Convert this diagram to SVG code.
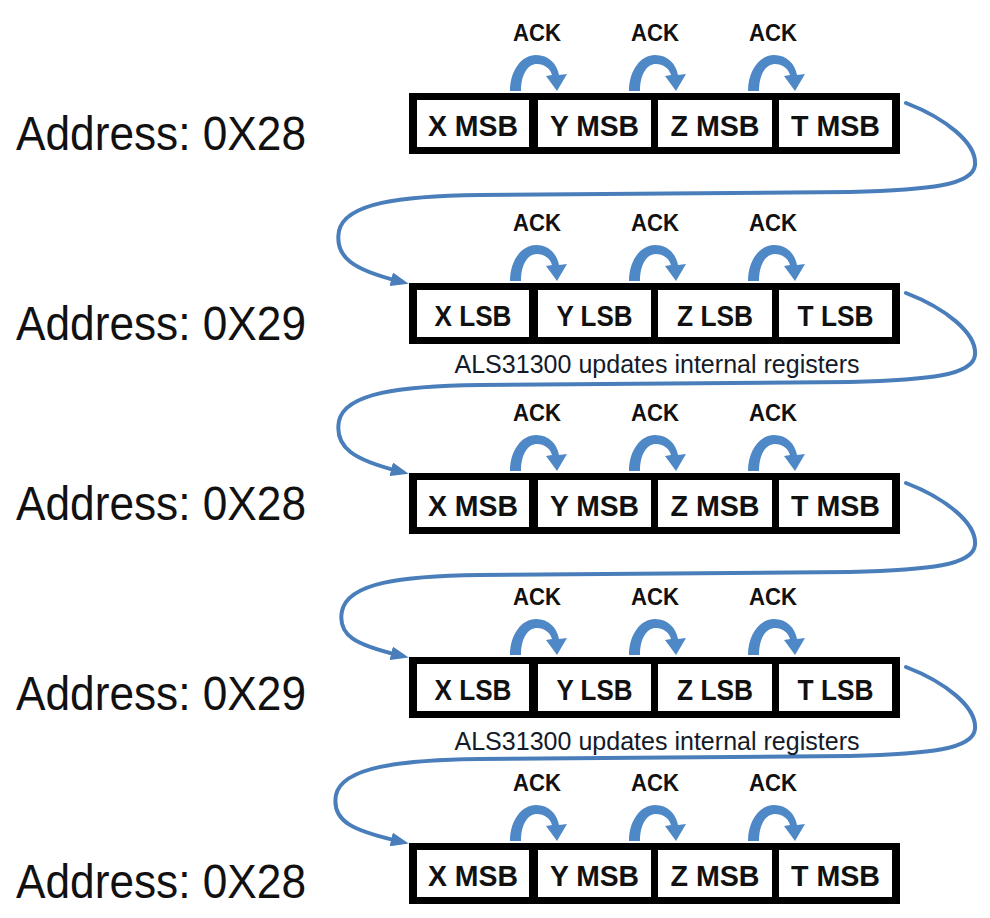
<svg xmlns="http://www.w3.org/2000/svg" xmlns:xlink="http://www.w3.org/1999/xlink" width="990" height="918" viewBox="0 0 990 918">
<style>
.addr{font-family:"Liberation Sans",Arial,sans-serif;font-size:48px;fill:#111}
.cell{font-family:"Liberation Sans",Arial,sans-serif;font-size:30px;font-weight:bold;fill:#111;text-anchor:middle}
.ack{font-family:"Liberation Sans",Arial,sans-serif;font-size:23px;font-weight:bold;fill:#111;text-anchor:middle}
.note{font-family:"Liberation Sans",Arial,sans-serif;font-size:25px;fill:#141a28;text-anchor:middle}
.frame{fill:#000}
.box{fill:#fff}
.conn{fill:none;stroke:#4A7EBB;stroke-width:4;stroke-linecap:round}
.ackarrow{fill:#4F88C6}
</style>
<defs>
<marker id="ah" markerUnits="userSpaceOnUse" viewBox="0 0 18 14" markerWidth="18" markerHeight="14" refX="7" refY="7" orient="auto">
<path d="M0,0 L18,7 L0,14 z" fill="#4A7EBB"/>
</marker>
<path id="curl" d="M0 0 C0 -21 12 -36 26 -36 C39 -36 47 -27 49 -16 L57 -17 L47 0 L36 -15 L42 -16 C40 -23 34 -27 27 -27 C18 -27 11 -17 11 0 Z"/>
<g id="curls">
<use xlink:href="#curl" class="ackarrow" x="510" y="-2"/>
<use xlink:href="#curl" class="ackarrow" x="629" y="-2"/>
<use xlink:href="#curl" class="ackarrow" x="748" y="-2"/>
</g>
<g id="frame">
<rect class="frame" x="409" y="0" width="491" height="61"/>
<rect class="box" x="417" y="7" width="112" height="47"/>
<rect class="box" x="538" y="7" width="113" height="47"/>
<rect class="box" x="658" y="7" width="114" height="47"/>
<rect class="box" x="779" y="7" width="113" height="47"/>
</g>
</defs>

<g id="connectors">
<path class="conn" marker-end="url(#ah)" d="M906 103 C945 118 977 143 975 165 C973 185 930 190 850 192 C700 194 560 194 480 195 C400 196 345 203 339 231 C334 258 355 270 398 281"/>
<path class="conn" marker-end="url(#ah)" d="M906 293 C945 308 977 333 975 355 C973 375 930 380 850 382 C700 384 560 384 480 385 C400 386 345 393 339 421 C334 448 355 460 398 471"/>
<path class="conn" marker-end="url(#ah)" d="M906 483 C945 498 977 523 975 545 C973 565 930 570 850 572 C700 574 560 574 480 575 C400 576 348 583 342 611 C337 636 357 645 398 655"/>
<path class="conn" marker-end="url(#ah)" d="M906 667 C945 682 977 707 975 729 C973 749 930 754 850 756 C700 758 560 758 480 759 C400 760 342 767 336 795 C331 822 355 831 398 841"/>
</g>

<g id="row1" transform="translate(0,93)">
<text class="addr" x="16" y="57" textLength="290" lengthAdjust="spacingAndGlyphs">Address: 0X28</text>
<text class="ack" x="537" y="-52" textLength="48" lengthAdjust="spacingAndGlyphs">ACK</text>
<text class="ack" x="655" y="-52" textLength="48" lengthAdjust="spacingAndGlyphs">ACK</text>
<text class="ack" x="773" y="-52" textLength="48" lengthAdjust="spacingAndGlyphs">ACK</text>
<use xlink:href="#curls"/>
<use xlink:href="#frame"/>
<text class="cell" x="473" y="43" textLength="90" lengthAdjust="spacingAndGlyphs">X MSB</text>
<text class="cell" x="594.5" y="43" textLength="89" lengthAdjust="spacingAndGlyphs">Y MSB</text>
<text class="cell" x="715" y="43" textLength="89" lengthAdjust="spacingAndGlyphs">Z MSB</text>
<text class="cell" x="835.5" y="43" textLength="89" lengthAdjust="spacingAndGlyphs">T MSB</text>
</g>

<g id="row2" transform="translate(0,283)">
<text class="addr" x="16" y="57" textLength="290" lengthAdjust="spacingAndGlyphs">Address: 0X29</text>
<text class="ack" x="537" y="-52" textLength="48" lengthAdjust="spacingAndGlyphs">ACK</text>
<text class="ack" x="655" y="-52" textLength="48" lengthAdjust="spacingAndGlyphs">ACK</text>
<text class="ack" x="773" y="-52" textLength="48" lengthAdjust="spacingAndGlyphs">ACK</text>
<use xlink:href="#curls"/>
<use xlink:href="#frame"/>
<text class="cell" x="473" y="43" textLength="77" lengthAdjust="spacingAndGlyphs">X LSB</text>
<text class="cell" x="594.5" y="43" textLength="76" lengthAdjust="spacingAndGlyphs">Y LSB</text>
<text class="cell" x="715" y="43" textLength="76" lengthAdjust="spacingAndGlyphs">Z LSB</text>
<text class="cell" x="835.5" y="43" textLength="76" lengthAdjust="spacingAndGlyphs">T LSB</text>
</g>

<g id="note1">
<text class="note" x="657" y="373" textLength="405" lengthAdjust="spacingAndGlyphs">ALS31300 updates internal registers</text>
</g>

<g id="row3" transform="translate(0,473)">
<text class="addr" x="16" y="47" textLength="290" lengthAdjust="spacingAndGlyphs">Address: 0X28</text>
<text class="ack" x="537" y="-52" textLength="48" lengthAdjust="spacingAndGlyphs">ACK</text>
<text class="ack" x="655" y="-52" textLength="48" lengthAdjust="spacingAndGlyphs">ACK</text>
<text class="ack" x="773" y="-52" textLength="48" lengthAdjust="spacingAndGlyphs">ACK</text>
<use xlink:href="#curls"/>
<use xlink:href="#frame"/>
<text class="cell" x="473" y="43" textLength="90" lengthAdjust="spacingAndGlyphs">X MSB</text>
<text class="cell" x="594.5" y="43" textLength="89" lengthAdjust="spacingAndGlyphs">Y MSB</text>
<text class="cell" x="715" y="43" textLength="89" lengthAdjust="spacingAndGlyphs">Z MSB</text>
<text class="cell" x="835.5" y="43" textLength="89" lengthAdjust="spacingAndGlyphs">T MSB</text>
</g>

<g id="row4" transform="translate(0,657)">
<text class="addr" x="16" y="53" textLength="290" lengthAdjust="spacingAndGlyphs">Address: 0X29</text>
<text class="ack" x="537" y="-52" textLength="48" lengthAdjust="spacingAndGlyphs">ACK</text>
<text class="ack" x="655" y="-52" textLength="48" lengthAdjust="spacingAndGlyphs">ACK</text>
<text class="ack" x="773" y="-52" textLength="48" lengthAdjust="spacingAndGlyphs">ACK</text>
<use xlink:href="#curls"/>
<use xlink:href="#frame"/>
<text class="cell" x="473" y="43" textLength="77" lengthAdjust="spacingAndGlyphs">X LSB</text>
<text class="cell" x="594.5" y="43" textLength="76" lengthAdjust="spacingAndGlyphs">Y LSB</text>
<text class="cell" x="715" y="43" textLength="76" lengthAdjust="spacingAndGlyphs">Z LSB</text>
<text class="cell" x="835.5" y="43" textLength="76" lengthAdjust="spacingAndGlyphs">T LSB</text>
</g>

<g id="note2">
<text class="note" x="657" y="750" textLength="405" lengthAdjust="spacingAndGlyphs">ALS31300 updates internal registers</text>
</g>

<g id="row5" transform="translate(0,843)">
<text class="addr" x="16" y="55" textLength="290" lengthAdjust="spacingAndGlyphs">Address: 0X28</text>
<text class="ack" x="537" y="-52" textLength="48" lengthAdjust="spacingAndGlyphs">ACK</text>
<text class="ack" x="655" y="-52" textLength="48" lengthAdjust="spacingAndGlyphs">ACK</text>
<text class="ack" x="773" y="-52" textLength="48" lengthAdjust="spacingAndGlyphs">ACK</text>
<use xlink:href="#curls"/>
<use xlink:href="#frame"/>
<text class="cell" x="473" y="43" textLength="90" lengthAdjust="spacingAndGlyphs">X MSB</text>
<text class="cell" x="594.5" y="43" textLength="89" lengthAdjust="spacingAndGlyphs">Y MSB</text>
<text class="cell" x="715" y="43" textLength="89" lengthAdjust="spacingAndGlyphs">Z MSB</text>
<text class="cell" x="835.5" y="43" textLength="89" lengthAdjust="spacingAndGlyphs">T MSB</text>
</g>
</svg>
